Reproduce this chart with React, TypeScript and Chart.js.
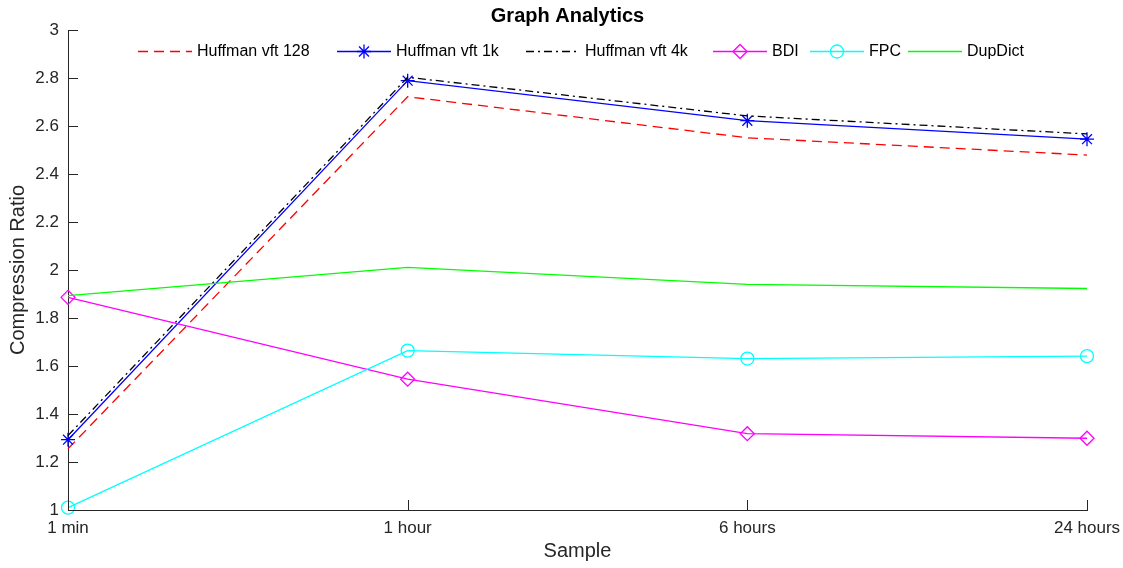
import React, { useEffect, useRef } from "react";
import { Chart, registerables } from "chart.js";
import { drawPoint } from "chart.js/helpers";

Chart.register(...registerables);

const categories = ["1 min", "1 hour", "6 hours", "24 hours"];
const huffman128 = [1.255, 2.722, 2.551, 2.479];
const huffman1k = [1.293, 2.789, 2.622, 2.545];
const huffman4k = [1.31, 2.803, 2.642, 2.567];
const bdi = [1.886, 1.545, 1.318, 1.299];
const fpc = [1.01, 1.664, 1.631, 1.641];
const dupDict = [1.893, 2.011, 1.94, 1.923];
const yTickValues = [1, 1.2, 1.4, 1.6, 1.8, 2, 2.2, 2.4, 2.6, 2.8, 3];
const yTickLabels = ["1", "1.2", "1.4", "1.6", "1.8", "2", "2.2", "2.4", "2.6", "2.8", "3"];

const FONT = "'Liberation Sans', Arial, Helvetica, sans-serif";
const AXIS = "#262626";

const legendSlots = [138, 337, 526, 713, 810, 908];

const decorPlugin = {
  id: "decor",
  afterDraw(chart: any) {
    const ctx = chart.ctx;
    const area = chart.chartArea;
    const xs = chart.scales.x;
    const ys = chart.scales.y;
    ctx.save();
    // inward tick marks
    ctx.strokeStyle = AXIS;
    ctx.lineWidth = 1;
    ctx.beginPath();
    ys.ticks.forEach((t: any) => {
      const y = Math.round(ys.getPixelForValue(t.value)) + 0.5;
      ctx.moveTo(area.left, y);
      ctx.lineTo(area.left + 10, y);
    });
    xs.ticks.forEach((_t: any, i: number) => {
      const x = Math.round(xs.getPixelForTick(i)) + 0.5;
      ctx.moveTo(x, area.bottom);
      ctx.lineTo(x, area.bottom - 10);
    });
    ctx.stroke();

    // title
    ctx.fillStyle = "#000";
    ctx.font = `bold 20px ${FONT}`;
    ctx.textAlign = "center";
    ctx.textBaseline = "middle";
    ctx.fillText("Graph Analytics", (area.left + area.right) / 2 - 10, 16);

    // legend
    const ly = 51;
    ctx.font = `16px ${FONT}`;
    ctx.textAlign = "left";
    chart.data.datasets.forEach((ds: any, i: number) => {
      const x0 = legendSlots[i];
      ctx.save();
      ctx.strokeStyle = ds.borderColor;
      ctx.lineWidth = ds.borderWidth;
      ctx.setLineDash(ds.borderDash || []);
      ctx.beginPath();
      ctx.moveTo(x0, ly + 0.5);
      ctx.lineTo(x0 + 54, ly + 0.5);
      ctx.stroke();
      ctx.setLineDash([]);
      if (ds.pointRadius > 0) {
        ctx.fillStyle = "rgba(0,0,0,0)";
        drawPoint(ctx, { pointStyle: ds.pointStyle, radius: ds.pointRadius, rotation: 0, borderWidth: ds.pointBorderWidth } as any, x0 + 27, ly + 0.5);
      }
      ctx.restore();
      ctx.fillStyle = "#000";
      ctx.fillText(ds.label, x0 + 59, ly + 1);
    });
    ctx.restore();
  },
};

function mk(label: string, data: number[], color: string, dash: number[], style: any, radius: number, order: number) {
  return {
    label,
    data,
    borderColor: color,
    backgroundColor: "rgba(0,0,0,0)",
    borderWidth: 1.3,
    borderDash: dash,
    pointStyle: style,
    pointRadius: radius,
    pointBorderWidth: 1.3,
    pointBorderColor: color,
    pointBackgroundColor: "rgba(0,0,0,0)",
    pointHoverRadius: radius,
    tension: 0,
    fill: false,
    clip: false as any,
    order,
  };
}

export default function App() {
  const ref = useRef<HTMLCanvasElement>(null);
  useEffect(() => {
    if (!ref.current) return;
    const chart = new Chart(ref.current, {
      type: "line",
      data: {
        labels: categories,
        datasets: [
          mk("Huffman vft 128", huffman128, "#ff0000", [10, 6], "circle", 0, 5),
          mk("Huffman vft 1k", huffman1k, "#0000ff", [], "star", 7, 4),
          mk("Huffman vft 4k", huffman4k, "#000000", [8, 4, 2, 4], "circle", 0, 3),
          mk("BDI", bdi, "#ff00ff", [], "rectRot", 7, 2),
          mk("FPC", fpc, "#00ffff", [], "circle", 6.5, 1),
          mk("DupDict", dupDict, "#00ff00", [], "circle", 0, 0),
        ],
      },
      options: {
        responsive: false,
        animation: false,
        events: [],
        layout: { padding: { top: 30, right: 36, left: 0, bottom: 0 } },
        plugins: {
          legend: { display: false },
          title: { display: false },
          tooltip: { enabled: false },
        },
        scales: {
          x: {
            type: "category",
            offset: false,
            grid: { display: false, drawTicks: false },
            border: { display: true, color: AXIS, width: 1 },
            ticks: { color: AXIS, font: { family: FONT, size: 17 }, padding: 8, maxRotation: 0, autoSkip: false },
            title: { display: true, text: "Sample", color: AXIS, font: { family: FONT, size: 20 }, padding: { top: 0, bottom: 5 } },
            afterFit(scale: any) {
              scale.height = 58;
              scale.paddingRight = 0;
              scale.paddingLeft = 0;
            },
          },
          y: {
            type: "linear",
            min: 1,
            max: 3,
            grid: { display: false, drawTicks: false },
            border: { display: true, color: AXIS, width: 1 },
            afterBuildTicks(scale: any) {
              scale.ticks = yTickValues.map((v) => ({ value: v }));
            },
            ticks: {
              color: AXIS,
              font: { family: FONT, size: 17 },
              padding: 9,
              callback: (v: any) => {
                const idx = yTickValues.findIndex((t) => Math.abs(t - Number(v)) < 1e-6);
                return idx >= 0 ? yTickLabels[idx] : "";
              },
            },
            title: { display: true, text: "Compression Ratio", color: AXIS, font: { family: FONT, size: 20 }, padding: { top: 6, bottom: 0 } },
            afterFit(scale: any) {
              scale.width = 68;
              scale.paddingTop = 0;
              scale.paddingBottom = 0;
            },
          },
        },
      },
      plugins: [decorPlugin],
    });
    return () => chart.destroy();
  }, []);
  return (
    <div style={{ position: "fixed", left: 0, top: 0, width: 1123, height: 568, background: "#fff" }}>
      <canvas ref={ref} width={1123} height={568} />
    </div>
  );
}
